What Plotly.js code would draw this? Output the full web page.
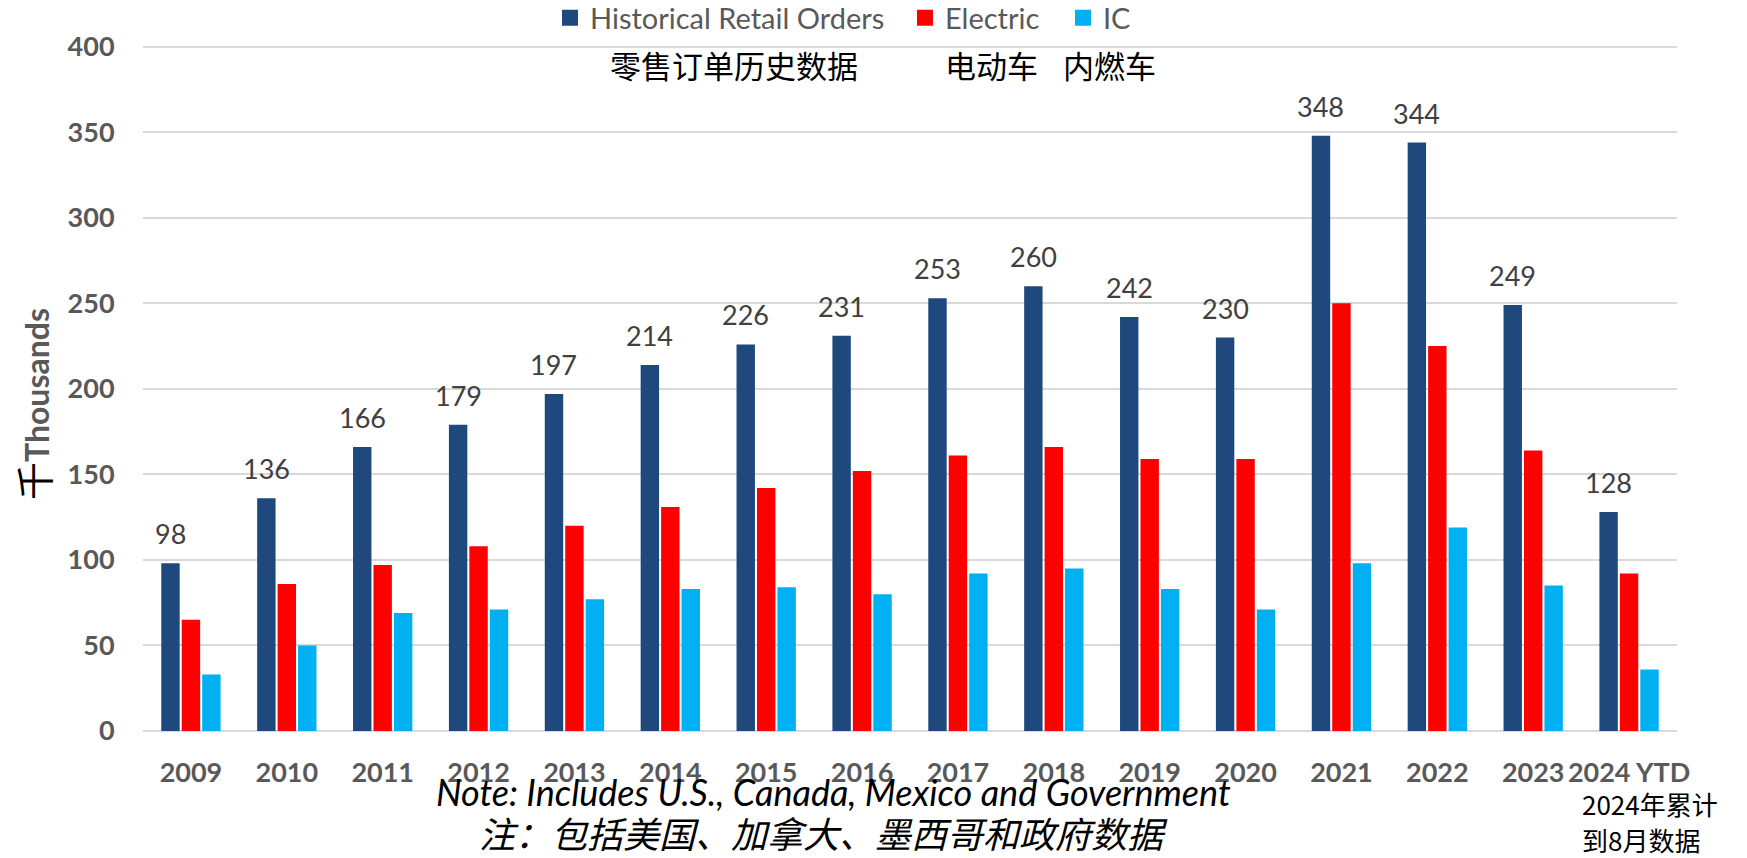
<!DOCTYPE html>
<html>
<head>
<meta charset="utf-8">
<script src="https://cdn.plot.ly/plotly-3.0.1.min.js"></script>
<style>html,body{margin:0;padding:0;background:#fff;}#chart{width:1747px;height:858px;}</style>
</head>
<body>
<div id="chart"></div>
<script>
const categories = ['2009','2010','2011','2012','2013','2014','2015','2016','2017','2018','2019','2020','2021','2022','2023','2024 YTD'];
const historicalRetailOrders = [98,136,166,179,197,214,226,231,253,260,242,230,348,344,249,128];
const electric = [65,86,97,108,120,131,142,152,161,166,159,159,250,225,164,92];
const ic = [33,50,69,71,77,83,84,80,92,95,83,71,98,119,85,36];
const seriesNames = ['Historical Retail Orders','Electric','IC'];
const yTicks = [0,50,100,150,200,250,300,350,400];

const colors = ['#1F497D','#FF0000','#00B0F0'];
const FONT = 'Lato, "Noto Sans CJK SC", sans-serif';
const CJK = '"Noto Sans CJK SC", sans-serif';

const W = 1747, Hh = 858, ML = 143, MR = 70, MT = 45, MB = 127;
const PW = W - ML - MR, PH = Hh - MT - MB;
const px = x => (x - ML) / PW;          // page px -> paper x
const py = y => 1 - (y - MT) / PH;      // page px -> paper y

const legendIds = ['legend', 'legend2', 'legend3'];
const legendX = [550, 905, 1063];

const traces = [historicalRetailOrders, electric, ic].map((vals, k) => ({
  type: 'bar',
  name: seriesNames[k],
  x: categories,
  y: vals,
  marker: {color: colors[k]},
  showlegend: false,
  legendgroup: 'g' + k,
  hoverinfo: 'x+y+name'
}));
// legend entries (square symbols) for the three series
[0,1,2].forEach(k => traces.push({
  type: 'scatter', mode: 'markers', name: seriesNames[k],
  x: [null], y: [null], legendgroup: 'g' + k, showlegend: true, legend: legendIds[k],
  marker: {symbol: 'square', size: 18, color: colors[k]}
}));

const annotations = categories.map((c, i) => ({
  x: i, y: historicalRetailOrders[i], xref: 'x', yref: 'y',
  text: String(historicalRetailOrders[i]),
  showarrow: false, xanchor: 'center', yanchor: 'bottom',
  xshift: -20.5, yshift: 11,
  font: {family: FONT, size: 27, color: '#404040'}
}));

annotations.push(
  {xref: 'paper', yref: 'paper', x: px(34), y: py(404), xanchor: 'center', yanchor: 'middle',
   textangle: -90, showarrow: false,
   text: '<span style="font-size:38px;color:#000000">千</span><b>Thousands</b>',
   font: {family: FONT, size: 32, color: '#595959'}},
  {xref: 'paper', yref: 'paper', x: px(734), y: py(65), xanchor: 'center', yanchor: 'middle',
   showarrow: false, text: '零售订单历史数据', font: {family: CJK, size: 31, color: '#000000'}},
  {xref: 'paper', yref: 'paper', x: px(991), y: py(65), xanchor: 'center', yanchor: 'middle',
   showarrow: false, text: '电动车', font: {family: CJK, size: 31, color: '#000000'}},
  {xref: 'paper', yref: 'paper', x: px(1109), y: py(65), xanchor: 'center', yanchor: 'middle',
   showarrow: false, text: '内燃车', font: {family: CJK, size: 31, color: '#000000'}},
  {xref: 'paper', yref: 'paper', x: px(833), y: py(792), xanchor: 'center', yanchor: 'middle',
   showarrow: false, text: '<i>Note: Includes U.S., Canada, Mexico and Government</i>',
   font: {family: FONT, size: 36, color: '#000000'}},
  {xref: 'paper', yref: 'paper', x: px(823), y: py(832), xanchor: 'center', yanchor: 'middle',
   showarrow: false, text: '<i>注：包括美国、加拿大、墨西哥和政府数据</i>',
   font: {family: CJK, size: 36, color: '#000000'}},
  {xref: 'paper', yref: 'paper', x: px(1580), y: py(803), xanchor: 'left', yanchor: 'middle',
   showarrow: false, text: '2024年累计', font: {family: CJK, size: 26, color: '#000000'}},
  {xref: 'paper', yref: 'paper', x: px(1580), y: py(839), xanchor: 'left', yanchor: 'middle',
   showarrow: false, text: '到8月数据', font: {family: CJK, size: 26, color: '#000000'}}
);

const legendBase = k => ({
  orientation: 'h', x: px(legendX[k]), xanchor: 'left', y: py(18), yanchor: 'middle',
  font: {family: FONT, size: 29, color: '#595959'}, bgcolor: 'rgba(0,0,0,0)',
  itemsizing: 'trace'
});

const layout = {
  width: W, height: Hh,
  margin: {l: ML, r: MR, t: MT, b: MB, autoexpand: false},
  paper_bgcolor: '#ffffff', plot_bgcolor: '#ffffff',
  font: {family: FONT, color: '#595959'},
  barmode: 'group', bargap: 0.36, bargroupgap: 0.1,
  showlegend: true,
  legend: legendBase(0), legend2: legendBase(1), legend3: legendBase(2),
  xaxis: {
    type: 'category', tickangle: 0, showgrid: false, zeroline: false,
    showline: false, ticks: 'outside', ticklen: 18, tickcolor: 'rgba(0,0,0,0)',
    tickfont: {family: FONT, size: 27, color: '#595959', weight: 'bold'}, fixedrange: true
  },
  yaxis: {
    range: [0, 401], tickvals: yTicks, ticktext: yTicks.map(String),
    showgrid: true, gridcolor: '#D9D9D9', gridwidth: 2,
    zeroline: true, zerolinecolor: '#D9D9D9', zerolinewidth: 2,
    showline: false, ticks: 'outside', ticklen: 22, tickcolor: 'rgba(0,0,0,0)',
    tickfont: {family: FONT, size: 27, color: '#595959', weight: 'bold'}, fixedrange: true
  },
  annotations: annotations
};

Plotly.newPlot('chart', traces, layout, {displayModeBar: false, staticPlot: true});
</script>
</body>
</html>
